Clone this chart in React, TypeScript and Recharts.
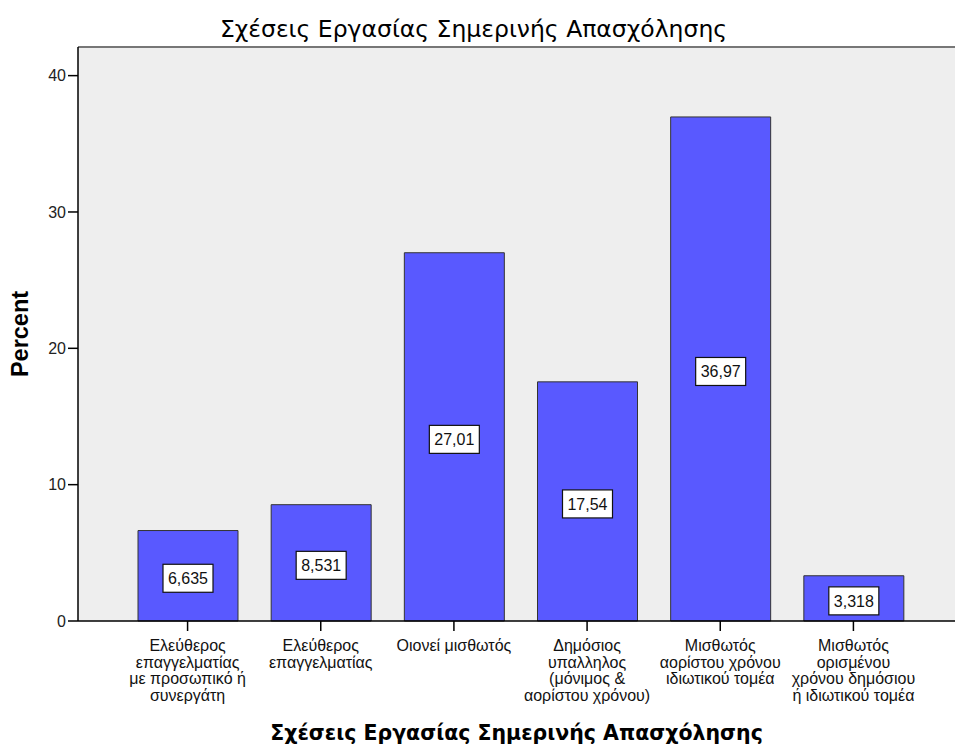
import {
  Bar,
  BarChart,
  CartesianGrid,
  LabelList,
  ReferenceLine,
  XAxis,
  YAxis,
} from "recharts";

const categories = [
  "Ελεύθερος\nεπαγγελματίας\nμε προσωπικό ή\nσυνεργάτη",
  "Ελεύθερος\nεπαγγελματίας",
  "Οιονεί μισθωτός",
  "Δημόσιος\nυπαλληλος\n(μόνιμος &\nαορίστου χρόνου)",
  "Μισθωτός\nαορίστου χρόνου\nιδιωτικού τομέα",
  "Μισθωτός\nορισμένου\nχρόνου δημόσιου\nή ιδιωτικού τομέα",
];
const percents = [6.635, 8.531, 27.01, 17.54, 36.97, 3.318];
const valueLabels = ["6,635", "8,531", "27,01", "17,54", "36,97", "3,318"];
const yTicks = [0, 10, 20, 30, 40];
const Y_MAX = 42.1;

const title = "Σχέσεις Εργασίας Σημερινής Απασχόλησης";

const data = categories.map((name, i) => ({
  name,
  percent: percents[i],
  label: valueLabels[i],
}));

const FONT = "'Liberation Sans', Arial, sans-serif";
const TITLE_FONT = "'DejaVu Sans', sans-serif";

function CategoryTick(props: any) {
  const { x, y, payload } = props;
  const lines = String(payload.value).split("\n");
  return (
    <g transform={`translate(${x},${y})`}>
      {lines.map((line, i) => (
        <text
          key={i}
          x={0}
          y={18 + i * 16.7}
          textAnchor="middle"
          fontFamily={FONT}
          fontSize={16}
          fill="#111"
        >
          {line}
        </text>
      ))}
    </g>
  );
}

function ValueBox(props: any) {
  const { x, y, width, height, value } = props;
  const cx = x + width / 2;
  const cy = y + height / 2 + 2.5;
  const w = String(value).length * 8 + 10;
  return (
    <g>
      <rect
        x={cx - w / 2}
        y={cy - 14}
        width={w}
        height={28}
        fill="#ffffff"
        stroke="#111"
        strokeWidth={1.2}
      />
      <text
        x={cx}
        y={cy + 5.7}
        textAnchor="middle"
        fontFamily={FONT}
        fontSize={16}
        fill="#111"
      >
        {value}
      </text>
    </g>
  );
}

export default function App() {
  return (
    <div
      style={{
        position: "absolute",
        left: 0,
        top: 0,
        width: 955,
        height: 745,
        background: "#fff",
        overflow: "hidden",
      }}
    >
      <div
        style={{
          position: "absolute",
          left: 0,
          top: 15,
          width: 947,
          textAlign: "center",
          fontFamily: TITLE_FONT,
          fontSize: 23.5,
          lineHeight: "normal",
          color: "#000",
          zIndex: 1,
        }}
      >
        {title}
      </div>
      <BarChart
        width={955}
        height={745}
        data={data}
        margin={{ top: 47, right: 0, bottom: 0, left: 0 }}
      >
        <CartesianGrid fill="#eeeeee" horizontal={false} vertical={false} />
        <ReferenceLine y={Y_MAX} stroke="#777" strokeWidth={2} />
        <XAxis
          dataKey="name"
          height={124}
          interval={0}
          padding={{ left: 43, right: 35 }}
          axisLine={{ stroke: "#000", strokeWidth: 1.5 }}
          tickLine={{ stroke: "#000", strokeWidth: 1.5 }}
          tickSize={10}
          tick={<CategoryTick />}
          label={{
            value: title,
            position: "insideBottom",
            offset: 5,
            style: {
              fontFamily: TITLE_FONT,
              fontWeight: "bold",
              fontSize: 20.5,
              fill: "#000",
            },
          }}
        />
        <YAxis
          width={78}
          domain={[0, Y_MAX]}
          ticks={yTicks}
          axisLine={{ stroke: "#000", strokeWidth: 1.5 }}
          tickLine={{ stroke: "#000", strokeWidth: 1.5 }}
          tickSize={10}
          tick={{ fontFamily: FONT, fontSize: 16, fill: "#222" }}
          label={{
            value: "Percent",
            angle: -90,
            position: "insideLeft",
            offset: 20,
            style: {
              fontFamily: FONT,
              fontWeight: "bold",
              fontSize: 23.5,
              fill: "#000",
              textAnchor: "middle",
            },
          }}
        />
        <Bar
          dataKey="percent"
          fill="#5959ff"
          stroke="#333"
          strokeWidth={1}
          barSize={100}
          isAnimationActive={false}
        >
          <LabelList dataKey="label" content={<ValueBox />} />
        </Bar>
      </BarChart>
    </div>
  );
}
